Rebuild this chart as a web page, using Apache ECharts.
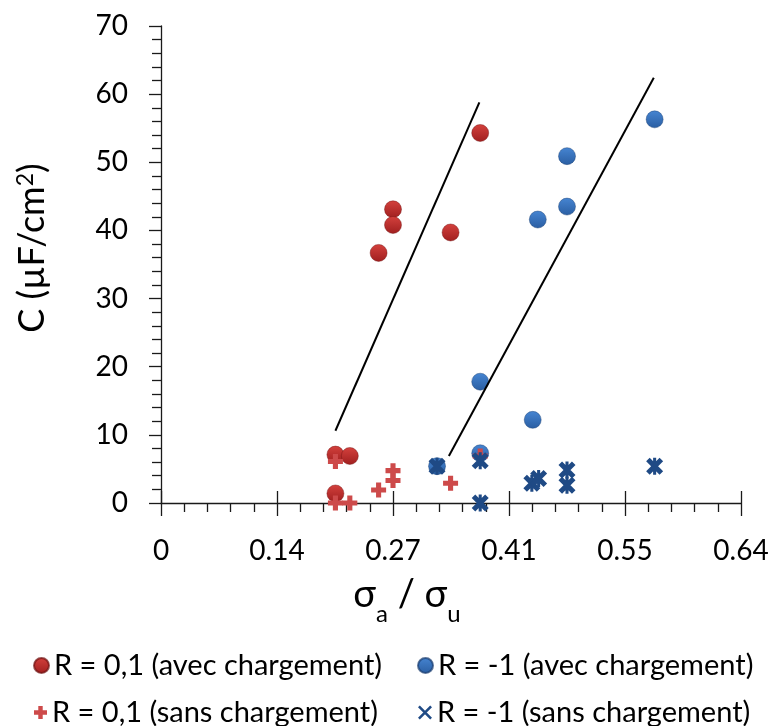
<!DOCTYPE html>
<html><head><meta charset="utf-8">
<script src="https://cdn.jsdelivr.net/npm/echarts@6/dist/echarts.min.js"></script>
<style>html,body{margin:0;padding:0;background:#fff}#c{width:777px;height:726px}</style>
</head><body><div id="c"></div>
<script>
// Axis tick labels (as printed on the original chart)
const xTickLabels = ['0', '0.14', '0.27', '0.41', '0.55', '0.64'];
const xMin = 0, xMax = 0.685, xInterval = 0.137;
const yMin = 0, yMax = 70, yInterval = 10;

// R = 0,1 (avec chargement)
const redAvecX = [0.206, 0.223, 0.206, 0.257, 0.274, 0.274, 0.342, 0.377];
const redAvecY = [7.1, 6.9, 1.4, 36.7, 43.1, 40.8, 39.7, 54.3];
// R = -1 (avec chargement)
const blueAvecX = [0.326, 0.377, 0.377, 0.439, 0.445, 0.4795, 0.4795, 0.583];
const blueAvecY = [5.4, 7.3, 17.8, 12.2, 41.6, 50.9, 43.5, 56.3];
// R = 0,1 (sans chargement)
const redSansX = [0.206, 0.206, 0.223, 0.257, 0.274, 0.274, 0.342, 0.377];
const redSansY = [6.1, 0.0, 0.0, 1.9, 4.75, 3.3, 2.9, 6.9];
// R = -1 (sans chargement)
const blueSansX = [0.326, 0.377, 0.377, 0.438, 0.446, 0.4795, 0.4795, 0.583];
const blueSansY = [5.4, 6.2, 0.0, 2.9, 3.6, 4.85, 2.6, 5.4];
// Trend lines (end points)
const trend1X = [0.206, 0.376];
const trend1Y = [10.6, 58.8];
const trend2X = [0.340, 0.582];
const trend2Y = [6.9, 62.4];

const names = ['R = 0,1 (avec chargement)', 'R = -1 (avec chargement)', 'R = 0,1 (sans chargement)', 'R = -1 (sans chargement)'];

const zip = (xs, ys) => xs.map((x, i) => [x, ys[i]]);
const FONT = 'Lato';
const AXIS = '#1a1a1a';

const plusPath = 'path://M3.3,0H6.7V3.3H10V6.7H6.7V10H3.3V6.7H0V3.3H3.3Z';
const starPath = 'path://M0,2.1L2.1,0L10,7.9L7.9,10Z M7.9,0L10,2.1L2.1,10L0,7.9Z M4.1,0H5.9V10H4.1Z';
const xLegendPath = 'path://M0,1.3L1.3,0L10,8.7L8.7,10Z M8.7,0L10,1.3L1.3,10L0,8.7Z';

const redGrad = new echarts.graphic.LinearGradient(0, 0, 0, 1, [
  {offset: 0, color: '#d4413d'}, {offset: 1, color: '#a01f1f'}]);
const blueGrad = new echarts.graphic.LinearGradient(0, 0, 0, 1, [
  {offset: 0, color: '#4685d2'}, {offset: 1, color: '#2a5ea2'}]);

const chart = echarts.init(document.getElementById('c'));

function legendAt(name, icon, left, top, size) {
  return {
    data: [{name: name, icon: icon}],
    left: left, top: top, orient: 'horizontal',
    itemWidth: size, itemHeight: size, itemGap: 6,
    selectedMode: false,
    textStyle: {fontFamily: FONT, fontSize: 29, color: '#000', padding: [0, 0, 0, 0]}
  };
}

const axisCommon = {
  axisLine: {show: true, lineStyle: {color: AXIS, width: 1.3}},
  splitLine: {show: false}
};

chart.setOption({
  animation: false,
  backgroundColor: '#fff',
  grid: {left: 161, right: 36, top: 26, bottom: 223},
  xAxis: [{
    type: 'value', min: xMin, max: xMax, interval: xInterval,
    ...axisCommon,
    axisTick: {show: true, length: 13, lineStyle: {color: AXIS, width: 1.3}},
    minorTick: {show: true, splitNumber: 5, length: 9, lineStyle: {color: AXIS, width: 1.3}},
    minorSplitLine: {show: false},
    axisLabel: {
      margin: 34, fontFamily: FONT, fontSize: 28, color: '#000',
      formatter: v => xTickLabels[Math.round(v / xInterval)]
    }
  }, {
    type: 'value', min: xMin, max: xMax, interval: xInterval, position: 'bottom',
    axisLine: {show: false}, splitLine: {show: false}, axisLabel: {show: false},
    axisTick: {show: true, inside: true, length: 12, lineStyle: {color: AXIS, width: 1.3}}
  }],
  yAxis: {
    type: 'value', min: yMin, max: yMax, interval: yInterval,
    ...axisCommon,
    axisTick: {show: true, length: 12, lineStyle: {color: AXIS, width: 1.3}},
    minorTick: {show: true, splitNumber: 5, length: 9, lineStyle: {color: AXIS, width: 1.3}},
    minorSplitLine: {show: false},
    axisLabel: {margin: 33, fontFamily: FONT, fontSize: 28, color: '#000'}
  },
  legend: [
    legendAt(names[0], 'circle', 28, 646, 15),
    legendAt(names[1], 'circle', 412, 646, 15),
    legendAt(names[2], plusPath, 29, 693, 13),
    legendAt(names[3], xLegendPath, 413, 693, 14)
  ],
  graphic: [
    {
      type: 'text', x: 407, y: 576, z: 10,
      style: {
        text: '{m|σ}{s|a}{m| / σ}{s|u}', align: 'center', verticalAlign: 'top',
        fill: '#000',
        rich: {
          m: {fontFamily: FONT, fontSize: 38, lineHeight: 40, verticalAlign: 'top', fill: '#000'},
          s: {fontFamily: FONT, fontSize: 24, lineHeight: 24, padding: [26, 0, 0, 0], verticalAlign: 'top', fill: '#000'}
        }
      }
    },
    {
      type: 'text', x: 34, y: 248, rotation: Math.PI / 2, z: 10,
      style: {
        text: '{m|C (µF/cm}{p|2}{m|)}', align: 'center', verticalAlign: 'middle',
        fill: '#000',
        rich: {
          m: {fontFamily: FONT, fontSize: 36, lineHeight: 40, verticalAlign: 'top', fill: '#000'},
          p: {fontFamily: FONT, fontSize: 23, lineHeight: 24, verticalAlign: 'top', fill: '#000'}
        }
      }
    }
  ],
  series: [
    {
      name: names[0], type: 'scatter', symbol: 'circle', symbolSize: 17,
      itemStyle: {color: redGrad, opacity: 1, borderColor: 'rgba(110,15,15,0.7)', borderWidth: 0.6},
      data: zip(redAvecX, redAvecY), z: 2
    },
    {
      name: names[1], type: 'scatter', symbol: 'circle', symbolSize: 17,
      itemStyle: {color: blueGrad, opacity: 1, borderColor: 'rgba(25,60,110,0.7)', borderWidth: 0.6},
      data: zip(blueAvecX, blueAvecY), z: 3
    },
    {
      name: names[2], type: 'scatter', symbol: plusPath, symbolSize: 15,
      itemStyle: {color: '#cd4a4a', opacity: 1},
      data: zip(redSansX, redSansY), z: 4
    },
    {
      name: names[3], type: 'scatter', symbol: starPath, symbolSize: 17,
      itemStyle: {color: '#1f4a85', opacity: 1},
      data: zip(blueSansX, blueSansY), z: 5
    },
    {
      name: 'trend1', type: 'line', symbol: 'none', silent: true,
      lineStyle: {color: '#000', width: 2},
      data: zip(trend1X, trend1Y), z: 6
    },
    {
      name: 'trend2', type: 'line', symbol: 'none', silent: true,
      lineStyle: {color: '#000', width: 2},
      data: zip(trend2X, trend2Y), z: 6
    }
  ]
});
</script>
</body></html>
